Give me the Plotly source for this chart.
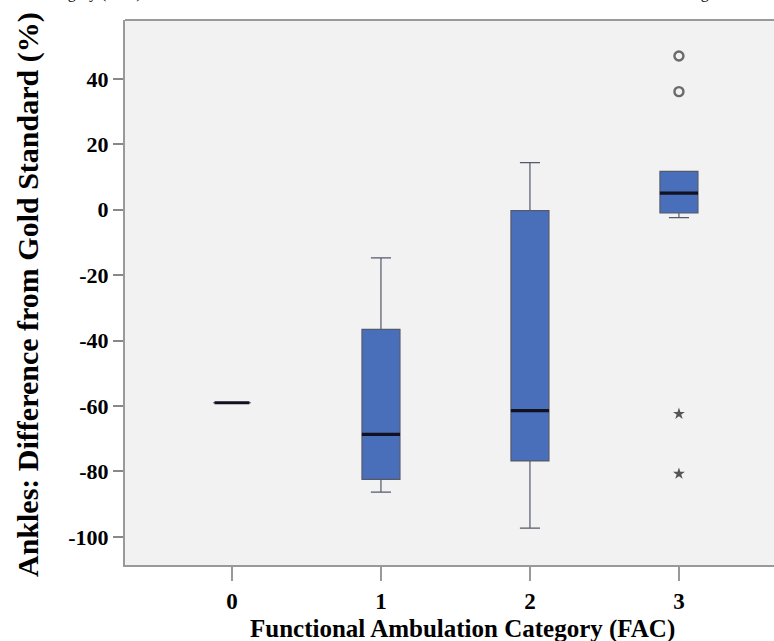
import plotly.graph_objects as go

# ---- data ----
categories = [0, 1, 2, 3]
tick_labels = ["0", "1", "2", "3"]
lower_whisker = [-59.0, -86.3, -97.3, -2.4]
q1_values = [-59.0, -82.4, -76.8, -1.0]
median_values = [-59.0, -68.7, -61.4, 5.1]
q3_values = [-59.0, -36.6, -0.3, 11.7]
upper_whisker = [-59.0, -14.7, 14.4, 11.7]

outlier_x = [3, 3]
outlier_y = [47.0, 36.1]
extreme_x = [3, 3]
extreme_y = [-62.4, -80.7]

y_ticks = [40, 20, 0, -20, -40, -60, -80, -100]

FONT = "Liberation Serif"
BOX_W = 0.255
MED_HALF = [0.117, 0.128, 0.128, 0.128]

fig = go.Figure()

fig.add_trace(go.Box(
    x=categories,
    q1=q1_values, median=median_values, q3=q3_values,
    lowerfence=lower_whisker, upperfence=upper_whisker,
    width=BOX_W, whiskerwidth=0.53,
    fillcolor="#4a6fba",
    line=dict(color="#55596b", width=1.2),
    boxpoints=False, hoverinfo="skip", showlegend=False,
))

# thick median lines
mx, my = [], []
for c, m, h in zip(categories, median_values, MED_HALF):
    mx += [c - h, c + h, None]
    my += [m, m, None]
fig.add_trace(go.Scatter(x=mx, y=my, mode="lines",
                         line=dict(color="#111122", width=3.2),
                         showlegend=False, hoverinfo="skip"))

fig.add_trace(go.Scatter(x=outlier_x, y=outlier_y, mode="markers",
                         marker=dict(symbol="circle-open", size=9, color="#6a6a6a",
                                     line=dict(width=2.4, color="#6a6a6a")),
                         showlegend=False, hoverinfo="skip"))
fig.add_trace(go.Scatter(x=extreme_x, y=extreme_y, mode="markers",
                         marker=dict(symbol="star", size=9, color="#555555"),
                         showlegend=False, hoverinfo="skip"))

fig.update_layout(
    width=774, height=641,
    margin=dict(l=125, r=0, t=20, b=76),
    paper_bgcolor="white", plot_bgcolor="#f2f2f2",
    font=dict(family=FONT, color="black"),
    xaxis=dict(
        range=[-0.718, 3.638], tickmode="array", tickvals=categories, ticktext=tick_labels,
        showgrid=False, zeroline=False,
        showline=True, linecolor="#999999", linewidth=2,
        ticks="outside", ticklen=14, tickwidth=2, tickcolor="#999999",
        tickfont=dict(family=FONT, size=23, color="black", weight="bold"),
    ),
    yaxis=dict(
        range=[-108.6, 58.0], tickmode="array", tickvals=y_ticks,
        ticktext=[str(v) for v in y_ticks],
        showgrid=False, zeroline=False,
        showline=True, linecolor="#999999", linewidth=2,
        ticks="outside", ticklen=10, tickwidth=1.5, tickcolor="#888888",
        tickfont=dict(family=FONT, size=22, color="black", weight="bold"),
    ),
    shapes=[dict(type="line", xref="paper", yref="paper", x0=0, x1=1, y0=1, y1=1,
                 line=dict(color="#999999", width=2))],
    annotations=[
        dict(text="<b>Functional Ambulation Category (FAC)</b>", xref="paper", yref="paper",
             x=(462 - 125) / 649, y=-(629 - 565) / 545, xanchor="center", yanchor="middle",
             showarrow=False, font=dict(family=FONT, size=25, color="black")),
        dict(text="<b>Ankles: Difference from Gold Standard (%)</b>", xref="paper", yref="paper",
             x=(28 - 125) / 649, y=(565 - 295) / 545, xanchor="center", yanchor="middle",
             textangle=-90, showarrow=False, font=dict(family=FONT, size=30, color="black")),
        dict(text="category (FAC)", xref="paper", yref="paper",
             x=(40 - 125) / 649, y=1 + 15.5 / 545, xanchor="left", yanchor="bottom",
             showarrow=False, font=dict(family=FONT, size=16, color="black")),
        dict(text="using", xref="paper", yref="paper",
             x=(672 - 125) / 649, y=1 + 15.5 / 545, xanchor="left", yanchor="bottom",
             showarrow=False, font=dict(family=FONT, size=16, color="black")),
    ],
)

fig.write_html("out.html", config={"displayModeBar": False},
               post_script="document.body.style.margin='0';document.body.style.overflow='hidden';")
